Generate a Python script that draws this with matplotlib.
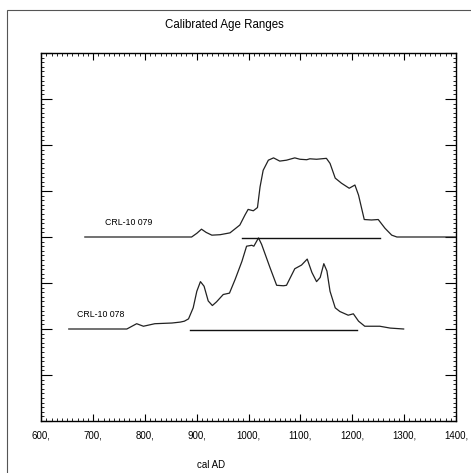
import matplotlib
matplotlib.use("Agg")
import matplotlib.pyplot as plt
from matplotlib.ticker import MultipleLocator
from matplotlib.patches import Rectangle

plt.rcParams['font.family'] = ['Liberation Sans', 'DejaVu Sans']

# CRL-10 079 probability curve (cal AD, height above its baseline)
years_079 = [684, 890, 900, 909, 918, 929, 945, 964, 983, 993, 999, 1009, 1017, 1022, 1028,
             1038, 1048, 1060, 1073, 1089, 1099, 1112, 1118, 1131, 1150, 1157, 1167, 1179,
             1194, 1205, 1212, 1223, 1237, 1250, 1263, 1276, 1286, 1400]
prob_079 = [0, 0, 0.08, 0.17, 0.10, 0.04, 0.05, 0.09, 0.26, 0.48, 0.60, 0.57, 0.64, 1.09, 1.45,
            1.67, 1.72, 1.65, 1.67, 1.72, 1.69, 1.68, 1.70, 1.69, 1.71, 1.60, 1.28, 1.17,
            1.06, 1.13, 0.91, 0.38, 0.37, 0.38, 0.19, 0.04, 0, 0]

# CRL-10 078 probability curve
years_078 = [653, 765, 784, 797, 819, 852, 868, 876, 884, 893, 900, 907, 914, 922, 930, 938,
             951, 963, 974, 987, 996, 1006, 1010, 1019, 1025, 1041, 1054, 1067, 1073, 1089,
             1102, 1113, 1122, 1131, 1138, 1145, 1151, 1157, 1167, 1176, 1192, 1202, 1212,
             1224, 1253, 1273, 1299]
prob_078 = [0, 0, 0.115, 0.06, 0.115, 0.13, 0.15, 0.17, 0.22, 0.46, 0.82, 1.03, 0.93, 0.61,
            0.51, 0.59, 0.75, 0.78, 1.08, 1.47, 1.80, 1.82, 1.80, 1.98, 1.84, 1.34, 0.95, 0.94,
            0.95, 1.31, 1.39, 1.52, 1.23, 1.03, 1.12, 1.42, 1.26, 0.82, 0.46, 0.38, 0.30, 0.33,
            0.17, 0.06, 0.06, 0.02, 0]

sample_names = ["CRL-10 079", "CRL-10 078"]
baselines = [4, 2]
ranges = [(988, 1253), (887, 1209)]
label_pos = [(723, 4.22), (668, 2.22)]

fig = plt.figure(figsize=(4.71, 4.73), dpi=100)
fig.patches.append(Rectangle((7 / 471, -0.1), 1.1, 0.1 + 463 / 473, transform=fig.transFigure,
                             fill=False, edgecolor='#555555', linewidth=0.8))
ax = fig.add_axes([41.3 / 471, 52 / 473, 414.7 / 471, 368 / 473])

ax.plot(years_079, [baselines[0] + p for p in prob_079], color='#222222', linewidth=0.9)
ax.plot(years_078, [baselines[1] + p for p in prob_078], color='#222222', linewidth=0.9)
for (lo, hi), b in zip(ranges, baselines):
    ax.plot([lo, hi], [b - 0.02, b - 0.02], color='#111111', linewidth=1.0)
for name, (x, y) in zip(sample_names, label_pos):
    ax.text(x, y, name, fontsize=6.3, ha='left', va='bottom')

ax.set_xlim(600, 1400)
ax.set_ylim(0, 8)
ax.xaxis.set_minor_locator(MultipleLocator(10))
ax.yaxis.set_major_locator(MultipleLocator(1))
ax.yaxis.set_minor_locator(MultipleLocator(0.1))
ax.set_xticks(range(600, 1401, 100))
ax.set_xticklabels([f"{v}," for v in range(600, 1401, 100)], fontsize=7)
ax.tick_params(axis='x', which='major', direction='in', length=5, top=True, pad=7)
ax.tick_params(axis='y', which='major', direction='in', length=8, right=True, labelleft=False)
ax.tick_params(which='minor', direction='in', length=2, top=True, right=True)
for s in ax.spines.values():
    s.set_linewidth(1.0)

ax.set_xlabel("cal AD", fontsize=7, labelpad=14, x=0.41)
fig.text(224 / 471, 1 - 25 / 473, "Calibrated Age Ranges", fontsize=8.3, ha='center', va='center')

fig.savefig("out.png", dpi=100)
